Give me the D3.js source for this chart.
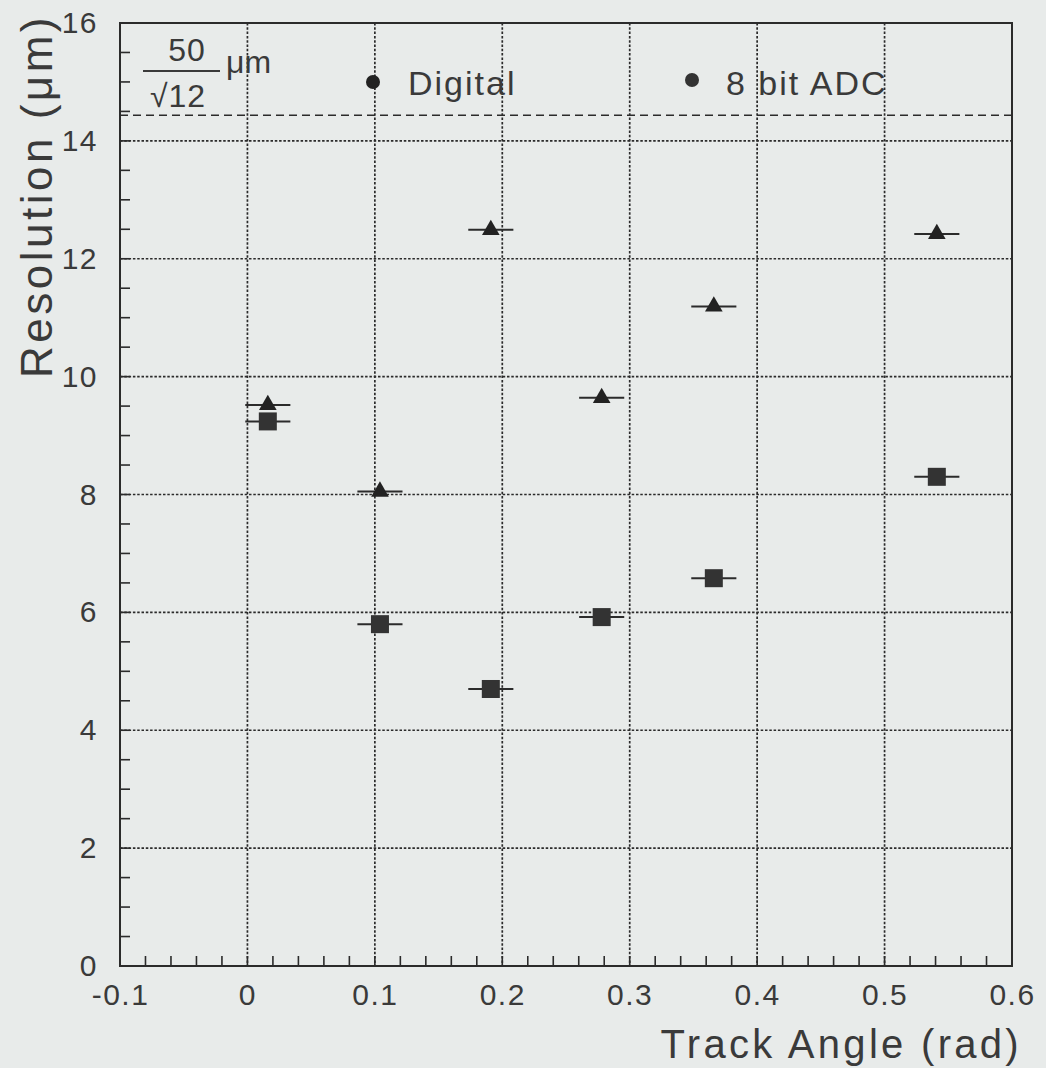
<!DOCTYPE html>
<html><head><meta charset="utf-8">
<script src="https://cdn.jsdelivr.net/npm/d3@7"></script>
<style>
html,body{margin:0;padding:0;background:#e8ebea;}
svg{display:block;}
text{font-family:"Liberation Sans","DejaVu Sans",sans-serif;fill:#3a3a3a;}
</style></head>
<body><svg id="c" width="1046" height="1068"></svg>
<script>
// Data
const angles   = [0.016, 0.104, 0.191, 0.278, 0.366, 0.541];
const digital  = [9.52, 8.05, 12.49, 9.64, 11.19, 12.42];
const adc8bit  = [9.24, 5.80, 4.70, 5.92, 6.58, 8.30];
const angleErr = [0.0177, 0.0177, 0.0177, 0.0177, 0.0177, 0.0177];
const xTicks = [-0.1, 0, 0.1, 0.2, 0.3, 0.4, 0.5, 0.6];
const xTickLabels = ["-0.1", "0", "0.1", "0.2", "0.3", "0.4", "0.5", "0.6"];
const yTicks = [0, 2, 4, 6, 8, 10, 12, 14, 16];
const binaryLimit = 50 / Math.sqrt(12);

const svg = d3.select("#c");
const L = 120, R = 1012, T = 23, B = 966;
const x = d3.scaleLinear().domain([-0.1, 0.6]).range([L, R]);
const y = d3.scaleLinear().domain([0, 16]).range([B, T]);
const ink = "#2b2b2b";

// grid
const g = svg.append("g");
g.selectAll("line.gx").data(xTicks.filter(v => v > -0.1 && v < 0.6)).enter().append("line")
  .attr("x1", d => x(d)).attr("x2", d => x(d)).attr("y1", T).attr("y2", B)
  .attr("stroke", ink).attr("stroke-width", 1.7).attr("stroke-dasharray", "2.5,1.8");
g.selectAll("line.gy").data(yTicks.filter(v => v > 0 && v < 16)).enter().append("line")
  .attr("y1", d => y(d)).attr("y2", d => y(d)).attr("x1", L).attr("x2", R)
  .attr("stroke", ink).attr("stroke-width", 1.7).attr("stroke-dasharray", "2.5,1.8");

// dashed limit line
g.append("line").attr("x1", L).attr("x2", R).attr("y1", y(binaryLimit)).attr("y2", y(binaryLimit))
  .attr("stroke", ink).attr("stroke-width", 1.6).attr("stroke-dasharray", "8,5");

// axes
const xAxis = d3.axisBottom(x).tickValues(xTicks).tickFormat((d, i) => xTickLabels[i]).tickSize(0).tickPadding(18);
const yAxis = d3.axisLeft(y).tickValues(yTicks).tickFormat(d3.format("d")).tickSize(0).tickPadding(22);
const xa = svg.append("g").attr("transform", `translate(0,${B})`).call(xAxis);
const ya = svg.append("g").attr("transform", `translate(${L},0)`).call(yAxis);
[xa, ya].forEach(a => {
  a.select(".domain").remove();
  a.selectAll("text").attr("font-size", 30).attr("fill", "#3a3a3a").attr("letter-spacing", 1.5)
    .style("font-family", '"Liberation Sans","DejaVu Sans",sans-serif');
});

// minor ticks
const xMinor = d3.range(-0.1, 0.6001, 0.02);
svg.append("g").selectAll("line").data(xMinor).enter().append("line")
  .attr("x1", d => x(d)).attr("x2", d => x(d)).attr("y1", B).attr("y2", B - 10)
  .attr("stroke", ink).attr("stroke-width", 1.6);
const yMinor = d3.range(0, 16.001, 0.5);
svg.append("g").selectAll("line").data(yMinor).enter().append("line")
  .attr("y1", d => y(d)).attr("y2", d => y(d)).attr("x1", L).attr("x2", L + 10)
  .attr("stroke", ink).attr("stroke-width", 1.6);

// frame
svg.append("rect").attr("x", L).attr("y", T).attr("width", R - L).attr("height", B - T)
  .attr("fill", "none").attr("stroke", ink).attr("stroke-width", 2);

// error bars
const eb = svg.append("g").attr("stroke", ink).attr("stroke-width", 2);
function bars(vals) {
  eb.append("g").selectAll("line").data(vals).enter().append("line")
    .attr("x1", (d, i) => x(angles[i] - angleErr[i])).attr("x2", (d, i) => x(angles[i] + angleErr[i]))
    .attr("y1", d => y(d)).attr("y2", d => y(d));
}
bars(digital); bars(adc8bit);

// markers
svg.append("g").selectAll("path").data(digital).enter().append("path")
  .attr("d", d3.symbol().type(d3.symbolTriangle).size(135))
  .attr("transform", (d, i) => `translate(${x(angles[i])},${y(d)})`)
  .attr("fill", "#222");
svg.append("g").selectAll("rect").data(adc8bit).enter().append("rect")
  .attr("x", (d, i) => x(angles[i]) - 9).attr("y", d => y(d) - 9)
  .attr("width", 18).attr("height", 18).attr("fill", "#333");

// legend
svg.append("circle").attr("cx", 373).attr("cy", 82).attr("r", 7).attr("fill", "#222");
svg.append("text").attr("x", 408).attr("y", 95).attr("font-size", 34).attr("letter-spacing", 2).text("Digital");
svg.append("circle").attr("cx", 692).attr("cy", 80).attr("r", 7).attr("fill", "#333");
svg.append("text").attr("x", 726).attr("y", 95).attr("font-size", 34).attr("letter-spacing", 2).text("8 bit ADC");

// fraction label
svg.append("text").attr("x", 187).attr("y", 61).attr("font-size", 32).attr("text-anchor", "middle").attr("letter-spacing", 1).text("50");
svg.append("line").attr("x1", 143).attr("x2", 220).attr("y1", 71).attr("y2", 71).attr("stroke", "#3a3a3a").attr("stroke-width", 2);
svg.append("text").attr("x", 178).attr("y", 107).attr("font-size", 32).attr("text-anchor", "middle").attr("letter-spacing", 1).text("√12");
svg.append("text").attr("x", 226).attr("y", 73).attr("font-size", 32).text("μm");

// axis titles
svg.append("text").attr("x", 1022).attr("y", 1058).attr("font-size", 40).attr("text-anchor", "end").attr("letter-spacing", 3.3).text("Track Angle (rad)");
svg.append("text").attr("transform", "translate(52,378) rotate(-90)").attr("font-size", 44).attr("letter-spacing", 3.5).text("Resolution (μm)");
</script></body></html>
